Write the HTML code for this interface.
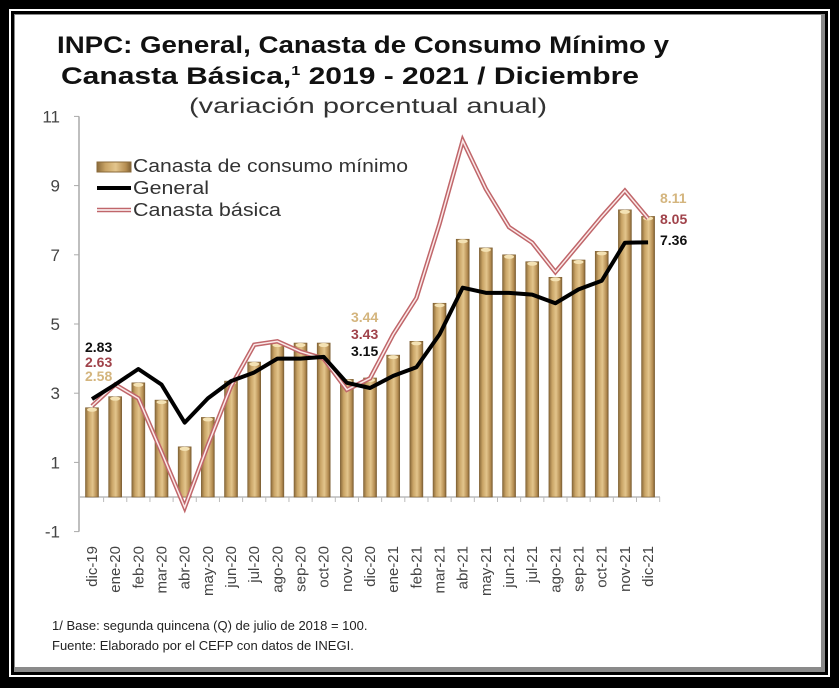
<!DOCTYPE html>
<html><head><meta charset="utf-8">
<style>
html,body{margin:0;padding:0;background:#000;}
svg{display:block;font-family:"Liberation Sans",sans-serif;}
</style></head>
<body>
<svg width="839" height="688" viewBox="0 0 839 688">
<defs>
<linearGradient id="barg" x1="0" x2="1" y1="0" y2="0">
<stop offset="0" stop-color="#8a6a3a"/><stop offset="0.25" stop-color="#c9a466"/>
<stop offset="0.55" stop-color="#e3c58c"/><stop offset="0.85" stop-color="#b58d52"/><stop offset="1" stop-color="#7d5f33"/>
</linearGradient>
</defs>
<rect x="0" y="0" width="839" height="688" fill="#000"/>
<rect x="9" y="9" width="821" height="668" fill="#fff"/>
<rect x="11" y="11" width="817" height="664" fill="#000"/>
<rect x="14" y="14" width="811" height="658" fill="#8a8a8a"/>
<rect x="15" y="15" width="806" height="652" fill="#fff"/>
<text x="363" y="53" text-anchor="middle" font-size="24" font-weight="bold" fill="#111" textLength="612" lengthAdjust="spacingAndGlyphs">INPC: General, Canasta de Consumo Mínimo y</text>
<text x="350" y="84" text-anchor="middle" font-size="24" font-weight="bold" fill="#111" textLength="578" lengthAdjust="spacingAndGlyphs">Canasta Básica,<tspan font-size="13" dy="-9">1</tspan><tspan dy="9"> 2019 - 2021 / Diciembre</tspan></text>
<text x="368" y="113" text-anchor="middle" font-size="21" fill="#333" textLength="358" lengthAdjust="spacingAndGlyphs">(variación porcentual anual)</text>
<g id="axes"></g>
<g id="bars"></g>
<g id="lines"></g>
<g id="legend">
<rect x="97" y="162" width="34" height="10" fill="url(#barg)" stroke="#8a6a3a" stroke-width="1"/>
<text x="133" y="172" font-size="18" fill="#333" textLength="275" lengthAdjust="spacingAndGlyphs">Canasta de consumo mínimo</text>
<line x1="97" y1="188" x2="131" y2="188" stroke="#000" stroke-width="4"/>
<text x="133" y="194" font-size="18" fill="#333" textLength="76" lengthAdjust="spacingAndGlyphs">General</text>
<line x1="97" y1="210" x2="131" y2="210" stroke="#c0666a" stroke-width="4.5"/>
<line x1="97" y1="210" x2="131" y2="210" stroke="#fff" stroke-width="1.5"/>
<text x="133" y="216" font-size="18" fill="#333" textLength="148" lengthAdjust="spacingAndGlyphs">Canasta básica</text>
</g>
<g id="labels" font-size="14" font-weight="bold">
<text x="85" y="352" fill="#111">2.83</text>
<text x="85" y="367" fill="#a0424a">2.63</text>
<text x="85" y="381" fill="#d4b57e">2.58</text>
<text x="351" y="322" fill="#d4b57e">3.44</text>
<text x="351" y="339" fill="#a0424a">3.43</text>
<text x="351" y="356" fill="#111">3.15</text>
<text x="660" y="203" fill="#d4b57e">8.11</text>
<text x="660" y="224" fill="#a0424a">8.05</text>
<text x="660" y="245" fill="#111">7.36</text>
</g>
<text x="52" y="630" font-size="13" fill="#222">1/ Base: segunda quincena (Q) de julio de 2018 = 100.</text>
<text x="52" y="650" font-size="13" fill="#222">Fuente: Elaborado por el CEFP con datos de INEGI.</text>
</svg>
<script>
const categories=["dic-19","ene-20","feb-20","mar-20","abr-20","may-20","jun-20","jul-20","ago-20","sep-20","oct-20","nov-20","dic-20","ene-21","feb-21","mar-21","abr-21","may-21","jun-21","jul-21","ago-21","sep-21","oct-21","nov-21","dic-21"];
const canastaMinima=[2.58,2.9,3.3,2.8,1.45,2.3,3.35,3.9,4.45,4.45,4.45,3.4,3.44,4.1,4.5,5.6,7.45,7.2,7.0,6.8,6.35,6.85,7.1,8.3,8.11];
const general=[2.83,3.25,3.7,3.25,2.15,2.85,3.35,3.6,4.0,4.0,4.05,3.3,3.15,3.5,3.75,4.7,6.05,5.9,5.9,5.85,5.6,6.0,6.25,7.35,7.36];
const canastaBasica=[2.63,3.25,2.85,1.3,-0.3,1.5,3.2,4.4,4.5,4.2,4.0,3.1,3.43,4.7,5.75,7.9,10.3,8.9,7.8,7.35,6.5,7.3,8.1,8.85,8.05];
const yTicks=[-1,1,3,5,7,9,11];
const NS="http://www.w3.org/2000/svg";
const y=v=>497-v*34.6;
const x=i=>92+i*23.17;
function mk(tag,attrs,parent){const e=document.createElementNS(NS,tag);for(const k in attrs)e.setAttribute(k,attrs[k]);document.getElementById(parent).appendChild(e);return e;}
// axes
const ya=mk('line',{x1:79,y1:y(11),x2:79,y2:y(-1),stroke:'#aaa','stroke-width':1.5},'axes');


const xa=mk('line',{x1:79,y1:y(0),x2:660,y2:y(0),stroke:'#bbb','stroke-width':1.5},'axes');


yTicks.forEach(t=>{
  mk('line',{x1:74,y1:y(t),x2:79,y2:y(t),stroke:'#aaa'},'axes');
  const tx=mk('text',{x:60,y:y(t)+6,'text-anchor':'end','font-size':17,fill:'#444'},'axes');
  tx.textContent=t;
  
  
});
categories.forEach((c,i)=>{
  mk('line',{x1:x(i)+11.6,y1:y(0),x2:x(i)+11.6,y2:y(0)+5,stroke:'#bbb'},'axes');
  const tx=mk('text',{x:0,y:0,'text-anchor':'end','font-size':15,fill:'#444',transform:`translate(${x(i)+5},546) rotate(-90)`},'axes');
  tx.textContent=c;
  
  
});
// bars
canastaMinima.forEach((v,i)=>{
  const b=mk('rect',{x:x(i)-6.5,y:y(v),width:13,height:y(0)-y(v),fill:'url(#barg)',stroke:'#7d5f33','stroke-width':0.6},'bars');
  
  
  mk('ellipse',{cx:x(i),cy:y(v)+2,rx:5,ry:2,fill:'#f4e2b4'},'bars');
});
// lines
const pts=a=>a.map((v,i)=>x(i)+','+y(v)).join(' ');
const b1=mk('polyline',{points:pts(canastaBasica),fill:'none',stroke:'#c0666a','stroke-width':4.5,'stroke-linejoin':'miter'},'lines');


mk('polyline',{points:pts(canastaBasica),fill:'none',stroke:'#fbeaea','stroke-width':1.5},'lines');
const g1=mk('polyline',{points:pts(general),fill:'none',stroke:'#000','stroke-width':4,'stroke-linejoin':'round'},'lines');


</script>
</body></html>
